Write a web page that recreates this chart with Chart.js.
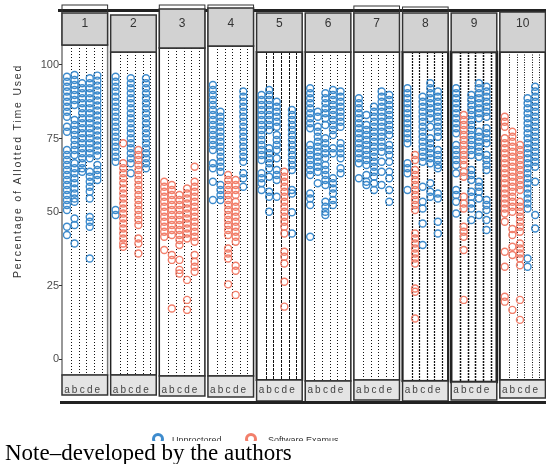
<!DOCTYPE html>
<html>
<head>
<meta charset="utf-8">
<script src="https://cdn.jsdelivr.net/npm/chart.js@4.4.1/dist/chart.umd.min.js"></script>
<style>
  html, body { margin: 0; padding: 0; background: #ffffff; }
  #wrap { position: relative; width: 546px; height: 464px; overflow: hidden; background: #fff; }
  #c { position: absolute; left: 0; top: 0; }
  #note { position: absolute; left: 5px; top: 441px; font-family: "Liberation Serif", "Times New Roman", serif; font-size: 23px; line-height: 23px; color: #000; white-space: nowrap; }
</style>
</head>
<body>
<div id="wrap">
  <canvas id="c" width="546" height="441"></canvas>
  <div id="note">Note–developed by the authors</div>
</div>
<script>
// ---------- DATA ----------
const panelLabels = ['1','2','3','4','5','6','7','8','9','10'];
const columnLabels = ['a','b','c','d','e'];
const yTickValues = [0, 25, 50, 75, 100];
const seriesNames = ['Unproctored', 'Software Examus'];

// each panel: five columns (a..e) of values, percentage of allotted time used
const unproctoredP1 = [
  [96,94.3,92.6,91,89.2,87.5,85.8,84.1,82.4,79,77.3,71.1,69.4,67.7,66,64.3,62.6,60.9,59.2,57.5,55.8,54.1,52.4,50.7,45,42.2],
  [96.6,94.9,93.2,91.5,89.8,88.1,86.4,81.3,79.6,77.9,76.2,74.5,72.8,71.1,69.4,66.6,64.9,63.2,61.5,59.8,58,56.3,54.6,53.5,47.8,45.6,39.3],
  [93.8,92.1,90.4,88.7,87,85.3,83.6,81.9,80.2,78.5,76.8,75.1,73.4,71.7,70,68.3,66.6,64.9,63.7],
  [95.5,93.8,92.1,90.4,88.7,87,85.3,83.6,81.9,80.2,78.5,76.8,75.1,73.4,71.7,70,68.3,63.7,62,60.3,58.6,56.9,54.6,48.3,46.7,45,34.2],
  [96.4,94.7,93,91.3,89.6,87.9,86.2,84.5,82.8,81.1,79.4,77.7,76,74.3,72.6,70.9,69.2,66,64.3,62.6,60.9]
];
const unproctoredP2 = [
  [96,94.3,92.6,91,89.2,87.5,85.8,84.1,82.4,80.7,79,77.3,75.6,73.9,72.2,70.5,68.8,67.1,50.7,49],
  [],
  [95.5,93.8,92.1,90.4,88.7,87,85.3,83.6,81.9,80.2,78.5,76.8,75.1,73.4,71.7,70,68.3,66.6,63.2],
  [],
  [95.5,93.8,92.1,90.4,88.7,87,85.3,83.6,81.9,80.2,78.5,76.8,75.1,73.4,71.7,70,68.3,66.6,64.9]
];
const unproctoredP3 = [[],[],[],[],[]];
const unproctoredP4 = [
  [93.2,91.5,89.8,88.1,86.4,84.7,83,81.3,79.6,77.9,76.2,74.5,72.8,71.1,66.6,64.9,60.3,54.1],
  [84.1,82.4,80.7,79,77.3,75.6,73.9,72.2,70.5,68.8,67.1,65.4,63.7,59.2,57.5,55.8,54.1],
  [],
  [],
  [91,89.2,87.5,85.8,84.1,82.4,80.7,79,77.3,75.6,73.9,72.2,70.5,68.8,67.1,63.2,61.5,58.6]
];
const unproctoredP5 = [
  [89.8,88.1,86.4,84.7,83,81.3,79.6,77.9,76.2,74.5,72.8,71.1,69.4,67.7,63.2,61.5,59.8,57.5],
  [91.5,89.8,88.1,86.4,84.7,83,81.3,79.6,77.9,71.7,70,68.3,66.6,64.9,62,56.9,55.2,50.1],
  [87.5,85.8,84.1,82.4,80.7,79,76.2,74.5,72.8,71.1,68.3,64.3,62.6,60.9,55.2],
  [],
  [84.7,83,81.3,79.6,77.9,76.2,74.5,72.8,71.1,69.4,67.7,66,64.3,57.5,56.3,49.9,42.7]
];
const unproctoredP6 = [
  [92.1,90.4,88.7,87,85.3,83.6,81.9,80.2,78.5,72.8,71.1,69.4,67.7,66,64.3,62.6,56.3,54.6,52.4,41.6],
  [84.1,82.4,79,77.3,75.6,73.9,72.2,70.5,68.8,67.1,65.4,63.7,59.8],
  [90.4,88.7,87,85.3,83.6,81.9,79.6,75.1,73.4,71.7,70,68.3,66,64.3,62.6,60.9,59.2,53.5,51.8,50.1,49],
  [91.5,89.8,88.1,86.4,84.7,83,81.3,79.6,77.9,76.2,71.7,70,61.5,59.8,58,56.3,54.1,52.4],
  [91,89.2,87.5,85.8,84.1,82.4,80.7,79,73.4,71.7,70,68.3,64.9,63.2]
];
const unproctoredP7 = [
  [88.7,87,85.3,83.6,81.9,80.2,78.5,76.8,75.1,73.4,71.7,70,68.3,66.6,61.5],
  [83,79.6,77.9,76.2,74.5,72.8,71.1,69.4,67.7,66,62.6,60.3,59.2],
  [85.8,84.1,82.4,80.7,79,77.3,75.6,73.9,72.2,70.5,68.8,67.1,65.4,63.7,62,59.8,57.5],
  [91,89.2,87.5,85.8,84.1,82.4,80.7,79,77.3,75.6,73.9,72.2,70.5,67.1,63.7,59.2],
  [89.8,88.1,86.4,84.7,83,81.3,79.6,77.9,76.2,72.8,71.1,69.4,67.1,63.7,61.5,57.5,53.5]
];
const unproctoredP8 = [
  [92.1,90.4,88.7,87,85.3,83.6,81.9,80.2,78.5,76.8,75.1,73.4,66.6,64.9,63.2,57.5],
  [],
  [89.2,87.5,85.8,84.1,82.4,80.7,79,77.3,75.6,73.9,72.2,70.5,68.8,67.1,58.6,53.5,51.2,46.1,38.8],
  [93.8,92.1,90.4,88.7,87,85.3,83.6,81.9,79,75.1,73.4,71.7,70,68.3,66.6,59.8,56.9,55.2],
  [91,89.2,87.5,85.8,84.1,82.4,80.7,79,77.3,75.6,71.1,69.4,67.7,66,64.9,56.3,54.6,46.7,42.7]
];
const unproctoredP9 = [
  [92.1,90.4,88.7,87,85.3,83.6,81.9,80.2,78.5,76.8,72.8,71.1,69.4,67.7,66,63.2,57.5,55.8,53.5,49.5],
  [],
  [89.8,88.1,86.4,84.7,83,81.3,79.6,77.9,76.2,74.5,72.8,71.1,69.4,64.3,62.6,60.9,56.9,55.2,52.9,51.2,47.3],
  [93.8,92.1,90.4,88.7,87,85.3,83.6,81.9,77.3,75.6,73.9,72.2,70.5,68.8,60.3,58.6,56.9,54.6,49],
  [92.6,91,89.2,87.5,85.8,84.1,82.4,78.5,76.8,75.1,73.4,69.4,67.7,66,64.3,54.1,52.4,50.7,47.3,43.9]
];
const unproctoredP10 = [
  [],
  [],
  [],
  [88.7,87,85.3,83.6,81.9,80.2,78.5,76.8,75.1,73.4,71.7,70,68.3,66.6,64.9,63.2,61.5,59.8,58,56.3,54.6,52.9,51.2,34.2,31.4],
  [92.6,91,89.2,87.5,85.8,84.1,82.4,80.7,79,77.3,75.6,73.9,72.2,70.5,68.8,67.1,65.4,60.3,49,44.4]
];

const examusP1 = [[],[],[],[],[]];
const examusP2 = [
  [],
  [73.4,66.6,64.9,63.2,61.5,59.8,58,56.3,54.6,52.9,51.2,49.5,47.8,46.1,44.4,42.7,41,39.3,38.2],
  [],
  [71.1,69.4,67.7,66,64.3,62.6,60.9,59.2,57.5,55.8,54.1,52.4,50.7,49,47.3,45.6,41,39.3,35.9],
  []
];
const examusP3 = [
  [60.3,58.6,56.9,55.2,53.5,51.8,50.1,48.4,46.7,45,43.3,41.6,37.1],
  [59.2,57.5,55.8,54.1,52.4,50.7,49,47.3,45.6,43.9,42.2,35.4,33.7,17.2],
  [55.8,54.1,52.4,50.7,49,47.3,45.6,43.9,42.2,40.5,38.8,33.7,30.3,29.1],
  [58,56.3,54.6,52.9,51.2,49.5,47.8,46.1,44.4,42.7,41,26.9,20.1,16.7],
  [65.4,60.3,58.6,56.9,55.2,53.5,51.8,50.1,48.4,46.7,45,43.3,41.6,39.9,35.4,33.1,31.4,29.7]
];
const examusP4 = [
  [],
  [],
  [62.6,60.9,59.2,57.5,55.8,54.1,52.4,50.7,49,47.3,45.6,43.9,42.2,37.6,35.9,34.2,25.4],
  [60.9,59.2,57.5,55.8,53.5,51.8,50.1,48.4,46.7,45,43.3,41.6,39.9,31.7,30,21.8],
  []
];
const examusP5 = [
  [],
  [],
  [],
  [63.7,62,60.3,58.6,56.9,55.2,53.5,51.8,50.1,48.4,46.7,45,42.7,36.5,34.8,32.5,26.3,17.8],
  []
];
const examusP6 = [[],[],[],[],[]];
const examusP7 = [[],[],[],[],[]];
const examusP8 = [
  [],
  [69.4,67.7,64.3,62.6,60.9,59.2,57.5,55.8,54.1,52.4,50.7,42.7,41,39.3,37.6,35.9,34.2,32.5,24,22.9,13.8],
  [],
  [],
  []
];
const examusP9 = [
  [],
  [83,81.3,79.6,77.9,76.2,74.5,72.8,71.1,69.4,67.7,66,63.7,62,55.2,52.9,51.2,45,43.3,41.6,37.1,20.1],
  [],
  [],
  []
];
const examusP10 = [
  [82.4,80.7,79,75.1,73.4,71.7,70,68.3,66.6,64.9,63.2,61.5,59.8,58,56.3,54.6,52.9,51.2,49.5,46.7,36.5,31.4,21.2,19.5],
  [77.3,75.6,73.9,72.2,70.5,68.8,67.1,65.4,63.7,62,60.3,58.6,56.9,55.2,53.5,51.8,50.1,44.2,42.2,38.2,35.4,16.7],
  [72.8,71.1,69.4,67.7,66,64.3,62.6,60.9,59.2,57.5,53.5,51.8,50.1,48.4,46.7,45,43.3,39.3,37.6,35.9,34.2,31.9,20.1,13.3],
  [],
  []
];

const unproctored = [unproctoredP1,unproctoredP2,unproctoredP3,unproctoredP4,unproctoredP5,unproctoredP6,unproctoredP7,unproctoredP8,unproctoredP9,unproctoredP10];
const examus = [examusP1,examusP2,examusP3,examusP4,examusP5,examusP6,examusP7,examusP8,examusP9,examusP10];

// ---------- LAYOUT / STYLE ----------
const PERIOD = 6.4, BOX_W = 6.0, COL0 = 0.65, LINE_OFF = 0.55;
const headTop = [13,15,9,8,13,13,13,13,13,12];
const headBot = [45,52,48,46,52,52,52,52,52,52];
const frameTop = [5,0,5,5,0,0,6,7,0,0];
const stripTop = [375,375,376,376,380,381,380,381,382,380];
const stripBot = [395,395,396,397,401,402,400,401,400,398];
const borderW = [1.5,1.5,1.5,1.5,2,1.5,1.5,2.2,2.6,2];
const lineDash = [[1,2],[1,2],[1,2],[1,2],[3,1],[1,2],[1,2],[2,1],[2,1],[1,1.5]];
const lineW = [1,1,1,1,1,1,1,1.2,1.5,1];
const BLUE = '#3d8bcd', RED = '#f27f6b';
const FONT = '"Liberation Sans", Arial, Helvetica, sans-serif';

function toPoints(series) {
  const pts = [];
  series.forEach((panel, p) => panel.forEach((vals, c) => vals.forEach(v => pts.push({x: p * PERIOD + COL0 + c, y: v}))));
  return pts;
}
const colTicks = [];
panelLabels.forEach((_, p) => columnLabels.forEach((_, c) => colTicks.push(p * PERIOD + COL0 + c)));

const facetPlugin = {
  id: 'facets',
  beforeDraw(chart) {
    const ctx = chart.ctx, xs = chart.scales.x;
    ctx.save();
    ctx.fillStyle = '#fff';
    ctx.fillRect(0, 0, chart.width, chart.height);
    // top rule
    ctx.fillStyle = '#222';
    ctx.fillRect(58, 9, chart.width - 58, 3);
    panelLabels.forEach((lab, p) => {
      const xL = xs.getPixelForValue(p * PERIOD);
      const xR = xs.getPixelForValue(p * PERIOD + BOX_W);
      // dotted guide lines
      ctx.strokeStyle = '#111';
      ctx.lineWidth = lineW[p];
      ctx.setLineDash(lineDash[p]);
      columnLabels.forEach((_, c) => {
        const x = Math.round(xs.getPixelForValue(p * PERIOD + COL0 + c + LINE_OFF)) + 0.5;
        ctx.beginPath(); ctx.moveTo(x, headBot[p]); ctx.lineTo(x, stripTop[p]); ctx.stroke();
      });
      ctx.setLineDash([]);
      // panel frame
      ctx.strokeStyle = p === 0 ? '#777' : '#222';
      ctx.lineWidth = borderW[p];
      ctx.strokeRect(xL, headBot[p], xR - xL, stripTop[p] - headBot[p]);
      // outer frame above header
      if (frameTop[p]) {
        ctx.strokeStyle = '#333'; ctx.lineWidth = 1;
        ctx.strokeRect(xL, frameTop[p], xR - xL, headBot[p] - frameTop[p]);
      }
      // header strip
      ctx.fillStyle = '#d2d2d2';
      ctx.fillRect(xL, headTop[p], xR - xL, headBot[p] - headTop[p]);
      ctx.strokeStyle = '#333'; ctx.lineWidth = 1.5;
      ctx.strokeRect(xL, headTop[p], xR - xL, headBot[p] - headTop[p]);
      ctx.fillStyle = '#333';
      ctx.font = '12px ' + FONT;
      ctx.textAlign = 'center'; ctx.textBaseline = 'middle';
      ctx.fillText(lab, (xL + xR) / 2, 24);
      // bottom strip
      ctx.fillStyle = '#e4e4e4';
      ctx.fillRect(xL, stripTop[p], xR - xL, stripBot[p] - stripTop[p]);
      ctx.strokeStyle = '#333'; ctx.lineWidth = 1.5;
      ctx.strokeRect(xL, stripTop[p], xR - xL, stripBot[p] - stripTop[p]);
    });
    // bottom rule
    ctx.fillStyle = '#222';
    ctx.fillRect(60, 401, chart.width - 60, 3);
    ctx.restore();
  },
  afterDraw(chart) {
    const ctx = chart.ctx;
    ctx.save();
    // y-axis title
    ctx.translate(18, 171);
    ctx.rotate(-Math.PI / 2);
    ctx.fillStyle = '#333';
    ctx.font = '10.5px ' + FONT;
    ctx.letterSpacing = '1.8px';
    ctx.textAlign = 'center'; ctx.textBaseline = 'middle';
    ctx.fillText('Percentage of Allotted Time Used', 0, 0);
    ctx.restore();
    // legend (cut by the lower edge as in the reference)
    ctx.save();
    const items = [[BLUE, 158, 172, seriesNames[0]], [RED, 251, 268, seriesNames[1]]];
    items.forEach(([col, cx, tx, txt]) => {
      ctx.strokeStyle = col; ctx.lineWidth = 3;
      ctx.beginPath(); ctx.arc(cx, 439, 4.5, 0, Math.PI * 2); ctx.stroke();
      ctx.fillStyle = '#333';
      ctx.font = '9px ' + FONT;
      ctx.textAlign = 'left'; ctx.textBaseline = 'middle';
      ctx.fillText(txt, tx, 441);
    });
    ctx.restore();
  }
};

new Chart(document.getElementById('c'), {
  type: 'scatter',
  data: {
    datasets: [
      { label: seriesNames[1], data: toPoints(examus), borderColor: RED, backgroundColor: 'rgba(0,0,0,0)',
        pointRadius: 3.5, pointBorderWidth: 1.4, pointHoverRadius: 3.5 },
      { label: seriesNames[0], data: toPoints(unproctored), borderColor: BLUE, backgroundColor: 'rgba(0,0,0,0)',
        pointRadius: 3.5, pointBorderWidth: 1.4, pointHoverRadius: 3.5 }
    ]
  },
  options: {
    responsive: false,
    animation: false,
    events: [],
    layout: { padding: { left: 0, right: 0, top: 52, bottom: 45 } },
    plugins: { legend: { display: false }, tooltip: { enabled: false } },
    scales: {
      x: {
        type: 'linear', min: 0, max: 62.9,
        grid: { display: false, drawTicks: false },
        border: { display: false },
        afterBuildTicks: s => { s.ticks = colTicks.map(v => ({ value: v })); },
        afterFit: s => { s.height = 20; },
        ticks: {
          autoSkip: false, maxRotation: 0, padding: 8,
          color: '#444', font: { family: FONT, size: 10 },
          callback: (v, i) => columnLabels[i % 5]
        }
      },
      y: {
        min: -5.78, max: 104.42,
        grid: { drawOnChartArea: false, drawTicks: true, tickLength: 3, color: '#333', lineWidth: 1 },
        border: { display: false },
        afterBuildTicks: s => { s.ticks = yTickValues.map(v => ({ value: v })); },
        afterFit: s => { s.width = 62; },
        ticks: { padding: 0, color: '#4d4d4d', font: { family: FONT, size: 11 } }
      }
    }
  },
  plugins: [facetPlugin]
});
</script>
</body>
</html>
